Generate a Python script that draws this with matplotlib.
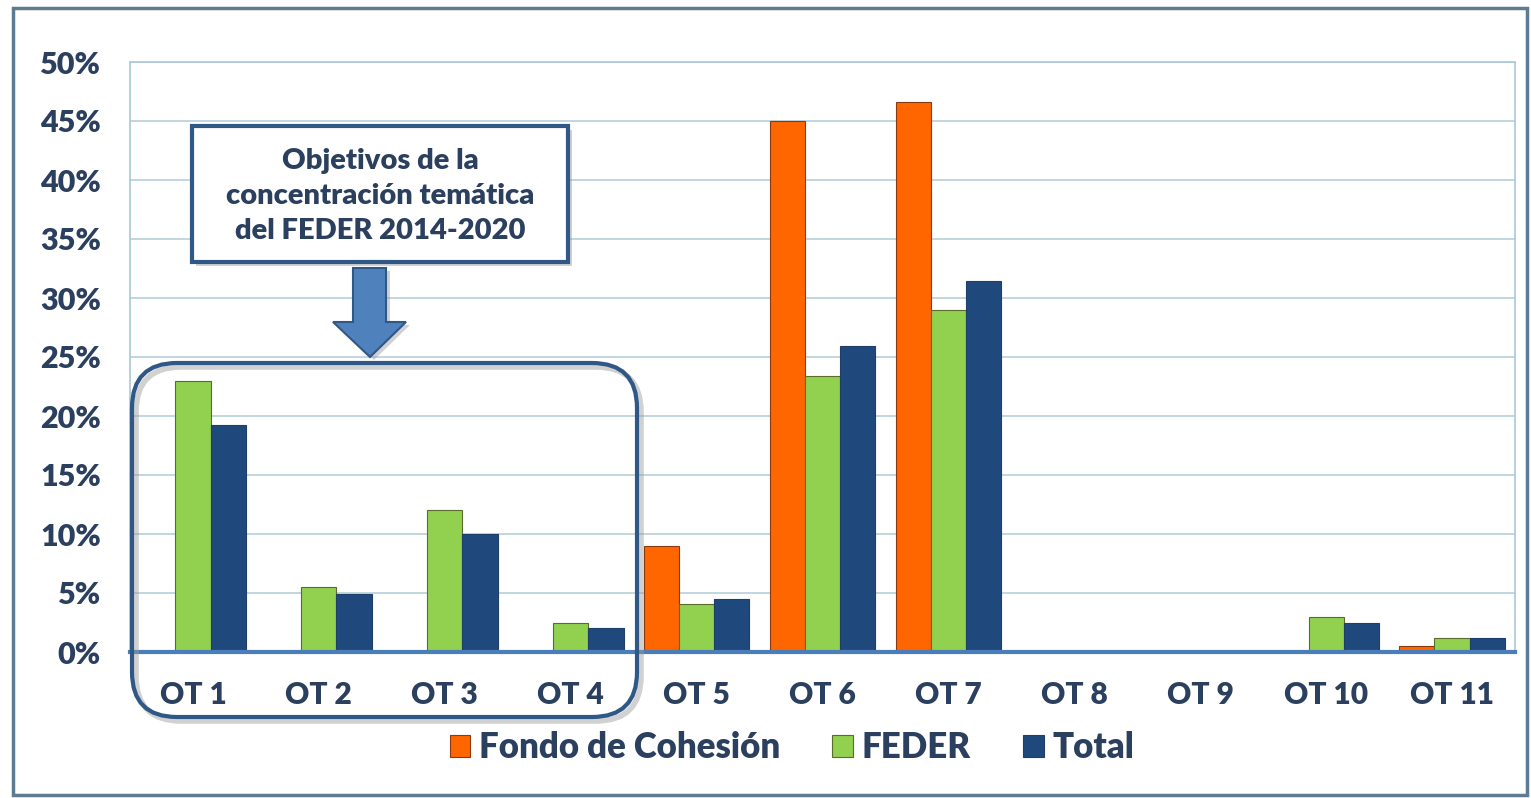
import numpy as np
import matplotlib
matplotlib.use('Agg')
import matplotlib.pyplot as plt
import matplotlib.transforms as mtransforms
from matplotlib.patches import FancyBboxPatch, Polygon, Rectangle
from matplotlib.ticker import PercentFormatter

# data (shares of allocation, %)
categories = ['OT 1', 'OT 2', 'OT 3', 'OT 4', 'OT 5', 'OT 6', 'OT 7', 'OT 8', 'OT 9', 'OT 10', 'OT 11']
fondo_cohesion = [0, 0, 0, 0, 9.0, 45.0, 46.6, 0, 0, 0, 0.5]
feder = [23.0, 5.5, 12.0, 2.5, 4.1, 23.4, 29.0, 0, 0, 3.0, 1.2]
total = [19.2, 4.9, 10.0, 2.0, 4.5, 25.9, 31.4, 0, 0, 2.5, 1.2]
series_names = ['Fondo de Cohesión', 'FEDER', 'Total']
box_text = 'Objetivos de la\nconcentración temática\ndel FEDER 2014-2020'

W, H = 1531, 798
plt.rcParams['font.family'] = ['Lato', 'DejaVu Sans']
txt_col = '#2B3F5E'
wt = 'heavy'

fig = plt.figure(figsize=(W / 100, H / 100), dpi=100)
# pixel transform (origin top-left)
pix = mtransforms.Affine2D().scale(1 / 100, -1 / 100).translate(0, H / 100) + fig.dpi_scale_trans

ax = fig.add_axes([130 / W, 1 - 652 / H, (1515 - 130) / W, (652 - 62) / H])

x = np.arange(len(categories))
w = 0.28
ax.bar(x - w, fondo_cohesion, w, color='#FF6600', edgecolor='#8B3A10', linewidth=0.8, label=series_names[0], zorder=3)
ax.bar(x, feder, w, color='#92D050', edgecolor='#5B6B2A', linewidth=0.8, label=series_names[1], zorder=3)
ax.bar(x + w, total, w, color='#1F497D', edgecolor='#1F3F6A', linewidth=0.8, label=series_names[2], zorder=3)

ax.set_xlim(-0.5, len(categories) - 0.5)
ax.set_ylim(0, 50)
ax.set_yticks(np.arange(0, 51, 5))
ax.yaxis.set_major_formatter(PercentFormatter(decimals=0))
ax.grid(axis='y', color='#BCD3DD', linewidth=1.3, zorder=0)
ax.set_axisbelow(True)
ax.set_xticks(x)
ax.set_xticklabels(categories)
ax.tick_params(axis='both', length=0, labelcolor=txt_col)
ax.tick_params(axis='x', pad=21, labelsize=21.5)
ax.tick_params(axis='y', pad=21, labelsize=22)
for lbl in ax.get_xticklabels() + ax.get_yticklabels():
    lbl.set_fontweight(wt)
for s in ['left', 'right', 'top']:
    ax.spines[s].set_color('#A9C8DA')
    ax.spines[s].set_linewidth(1.2)
ax.spines['bottom'].set_color('#4A7EBB')
ax.spines['bottom'].set_linewidth(3)
ax.spines['bottom'].set_zorder(4)

leg = fig.legend(loc='center', bbox_to_anchor=(792 / W, 1 - 748 / H), ncol=3, frameon=False,
                 prop={'size': 25, 'weight': wt}, handlelength=0.6, handleheight=0.6,
                 handletextpad=0.25, columnspacing=1.5)
for t in leg.get_texts():
    t.set_color(txt_col)

edge = '#2F5886'
sh = '#9A9A9A'

# rounded frame around OT 1 - OT 4 (with soft shadow)
fig.add_artist(FancyBboxPatch((136, 367), 505, 354, boxstyle='round,pad=0,rounding_size=45',
                              transform=pix, facecolor='none', edgecolor=sh, alpha=0.45,
                              linewidth=4, zorder=4))
fig.add_artist(FancyBboxPatch((132, 363), 505, 354, boxstyle='round,pad=0,rounding_size=45',
                              transform=pix, facecolor='none', edgecolor=edge, linewidth=3, zorder=5))

# text box
fig.add_artist(Rectangle((196, 130), 376, 136, transform=pix, facecolor=sh, edgecolor='none',
                         alpha=0.45, zorder=4))
fig.add_artist(Rectangle((192, 126), 376, 136, transform=pix, facecolor='white', edgecolor=edge,
                         linewidth=3, zorder=5))
fig.text(380 / W, 1 - 196 / H, box_text, ha='center', va='center', fontsize=21,
         fontweight=wt, color=txt_col, linespacing=1.45, zorder=6)

# down arrow
arrow_pts = [(353, 268), (386, 268), (386, 322), (406, 322), (370, 357), (333, 322), (353, 322)]
fig.add_artist(Polygon([(px + 4, py + 3) for px, py in arrow_pts], closed=True, transform=pix,
                       facecolor=sh, edgecolor='none', alpha=0.45, zorder=4))
fig.add_artist(Polygon(arrow_pts, closed=True, transform=pix, facecolor='#4F81BD',
                       edgecolor=edge, linewidth=1.5, zorder=5))

# outer frame
fig.add_artist(Rectangle((13, 8), 1514, 787, transform=pix, facecolor='none',
                         edgecolor='#5C7C93', linewidth=2.5))

fig.savefig('out.png', dpi=100)
